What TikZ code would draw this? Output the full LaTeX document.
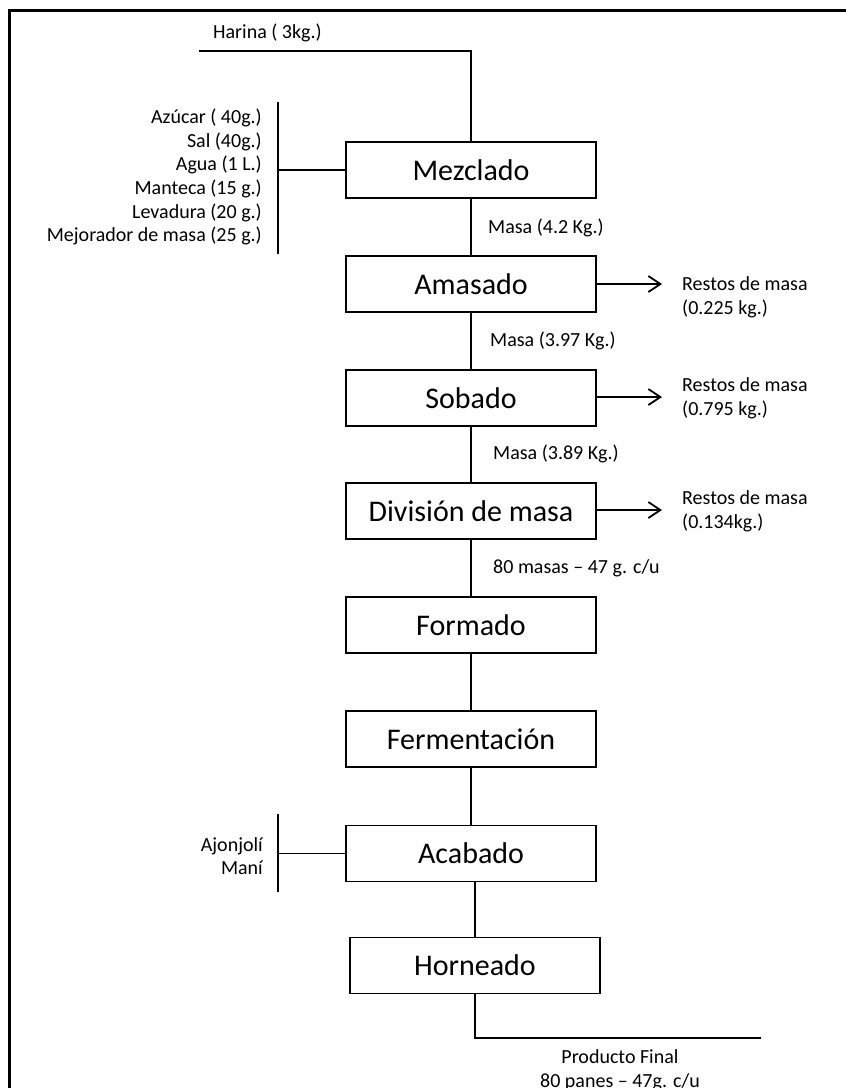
\documentclass[tikz,border=0pt]{standalone}
\usepackage{fontspec}
\setmainfont{Carlito}
\usetikzlibrary{arrows.meta}
\begin{document}
\begin{tikzpicture}[x=1pt,y=-1pt,
  stepbox/.style={draw,line width=1.8pt,minimum width=250pt,minimum height=56pt,inner sep=0pt,font=\fontsize{30}{36}\selectfont},
  lbl/.style={inner sep=0pt,font=\fontsize{20}{23.6}\selectfont},
  conn/.style={line width=1.8pt},
  outarrow/.style={line width=1.8pt,-{Straight Barb[length=12pt,width=16pt,line width=1.8pt]}}]
\useasboundingbox (0,0) rectangle (846,1088);
\draw[line width=3.5pt] (9.5,1088) -- (9.5,10.5) -- (846,10.5);

\node[stepbox] (mez) at (471,170) {Mezclado};
\node[stepbox] (ama) at (471,284) {Amasado};
\node[stepbox] (sob) at (471,398) {Sobado};
\node[stepbox] (div) at (471,511) {División de masa};
\node[stepbox] (for) at (471,625) {Formado};
\node[stepbox] (fer) at (471,739) {Fermentación};
\node[stepbox] (aca) at (471,853.5) {Acabado};
\node[stepbox] (hor) at (475,965.5) {Horneado};

% Harina
\coordinate (h0) at (199,51);
\node[lbl,anchor=west] (harina) at (213,33) {Harina ( 3kg.)};
\draw[conn] (h0) -| (mez.north);

% ingredients
\coordinate (ib1) at (278,102);
\coordinate (ib2) at (278,254);
\coordinate (ibm) at (278,170);
\draw[conn] (ib1) -- (ib2);
\draw[conn] (ibm) -- (mez.west);
\node[lbl,anchor=east,align=right] (ing) at (262,177) {Azúcar ( 40g.)\\Sal (40g.)\\Agua (1 L.)\\Manteca (15 g.)\\Levadura (20 g.)\\Mejorador de masa (25 g.)};

% vertical flow
\draw[conn] (mez.south) -- (ama.north);
\draw[conn] (ama.south) -- (sob.north);
\draw[conn] (sob.south) -- (div.north);
\draw[conn] (div.south) -- (for.north);
\draw[conn] (for.south) -- (fer.north);
\draw[conn] (fer.south) -- (aca.north);
\draw[conn] (aca.south -| hor.north) -- (hor.north);

\node[lbl,anchor=west] (m1) at (488,228) {Masa (4.2 Kg.)};
\node[lbl,anchor=west] (m2) at (490,341) {Masa (3.97 Kg.)};
\node[lbl,anchor=west] (m3) at (493,454) {Masa (3.89 Kg.)};
\node[lbl,anchor=west] (m4) at (493,568) {80 masas – 47 g. c/u};

% restos
\coordinate (r1) at (662,284);
\coordinate (r2) at (662,397);
\coordinate (r3) at (662,510);
\draw[outarrow] (ama.east) -- (r1);
\draw[outarrow] (sob.east |- r2) -- (r2);
\draw[outarrow] (div.east |- r3) -- (r3);
\node[lbl,anchor=west,align=left] (t1) at (682,297) {Restos de masa\\(0.225 kg.)};
\node[lbl,anchor=west,align=left] (t2) at (682,398) {Restos de masa\\(0.795 kg.)};
\node[lbl,anchor=west,align=left] (t3) at (682,511) {Restos de masa\\(0.134kg.)};

% Ajonjoli
\coordinate (a1) at (278,814);
\coordinate (a2) at (278,892);
\coordinate (am) at (278,853.5);
\draw[conn] (a1) -- (a2);
\draw[conn] (am) -- (aca.west);
\node[lbl,anchor=east,align=right] (aj) at (263,856) {Ajonjolí\\Maní};

% final
\coordinate (fin) at (761,1038);
\draw[conn] (hor.south) |- (fin);
\node[lbl,align=center] (prod) at (620,1070) {Producto Final\\80 panes – 47g. c/u};
\end{tikzpicture}
\end{document}
